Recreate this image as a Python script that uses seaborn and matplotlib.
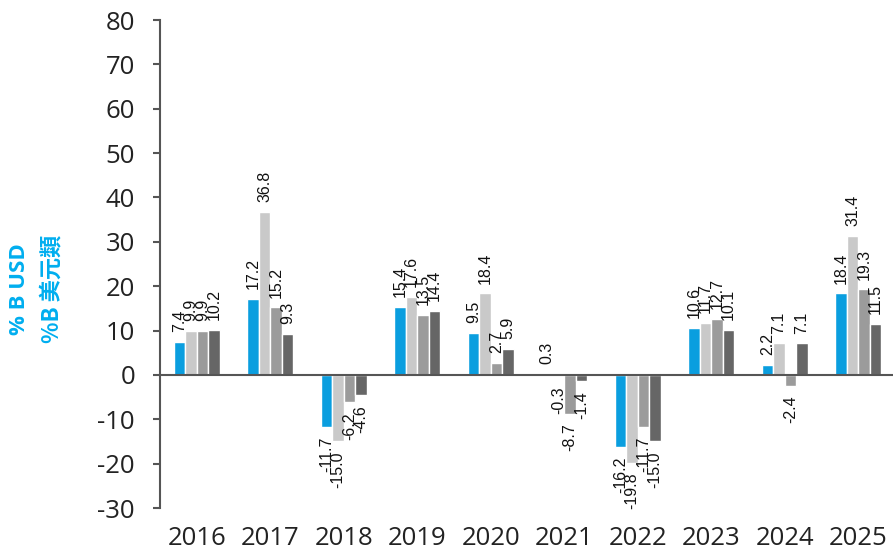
import numpy as np
import pandas as pd
import matplotlib
matplotlib.use('Agg')
import matplotlib.pyplot as plt
import seaborn as sns

# values
years = ['2016', '2017', '2018', '2019', '2020', '2021', '2022', '2023', '2024', '2025']
series_names = ['s1', 's2', 's3', 's4']
s1 = [7.4, 17.2, -11.7, 15.4, 9.5, 0.3, -16.2, 10.6, 2.2, 18.4]
s2 = [9.9, 36.8, -15.0, 17.6, 18.4, -0.3, -19.8, 11.7, 7.1, 31.4]
s3 = [9.9, 15.2, -6.2, 13.5, 2.7, -8.7, -11.7, 12.7, -2.4, 19.3]
s4 = [10.2, 9.3, -4.6, 14.4, 5.9, -1.4, -15.0, 10.1, 7.1, 11.5]
y_ticks = [-30, -20, -10, 0, 10, 20, 30, 40, 50, 60, 70, 80]

colors = ['#0A9EDF', '#C9C9C9', '#9B9B9B', '#666666']
label_blue = '#00AEEF'
axis_color = '#555555'

df = pd.DataFrame({
    'year': years * 4,
    'series': [n for n in series_names for _ in years],
    'value': s1 + s2 + s3 + s4,
})

sns.set_theme(style='white')
plt.rcParams['font.family'] = ['Open Sans', 'DejaVu Sans']
plt.rcParams['axes.unicode_minus'] = False

fig = plt.figure(figsize=(8.93, 5.54), dpi=100)
ax = fig.add_axes([160 / 893, 1 - 508 / 554, 735 / 893, 488 / 554])

sns.barplot(data=df, x='year', y='value', hue='series', hue_order=series_names,
            palette=colors, width=0.63, saturation=1, legend=False, ax=ax)

for container in ax.containers:
    ax.bar_label(container, fmt='%.1f', rotation=90, padding=7,
                 fontsize=11.5, family='Liberation Sans', color='#111111')

ax.set_ylim(-30, 80)
ax.set_yticks(y_ticks)
ax.set_xlim(-0.5, 9.5)
ax.set_xlabel('')
ax.set_ylabel('')

ax.spines['top'].set_visible(False)
ax.spines['right'].set_visible(False)
ax.spines['bottom'].set_position(('data', 0))
for side in ['left', 'bottom']:
    ax.spines[side].set_color(axis_color)
    ax.spines[side].set_linewidth(1.5)

ax.set_xticks(np.arange(0.5, 10, 1), minor=True)
ax.tick_params(axis='x', which='major', length=0, pad=109, labelsize=18.5, labelcolor='#222222')
ax.tick_params(axis='x', which='minor', direction='out', length=5, width=1.5, color=axis_color)
ax.tick_params(axis='y', direction='out', length=5, width=1.5, color=axis_color, pad=13,
               labelsize=18.5, labelcolor='#222222', left=True)

fig.text(20 / 893, 1 - 289 / 554, '% B USD', rotation=90, ha='center', va='center',
         color=label_blue, fontsize=16, fontweight='bold',
         family=['Open Sans', 'DejaVu Sans'])
fig.text(52 / 893, 1 - 289 / 554, '%B 美元類', rotation=90, ha='center', va='center',
         color=label_blue, fontsize=16, fontweight='bold',
         family=['Noto Sans CJK TC', 'DejaVu Sans'])

fig.savefig('out.png', dpi=100)
plt.close(fig)
